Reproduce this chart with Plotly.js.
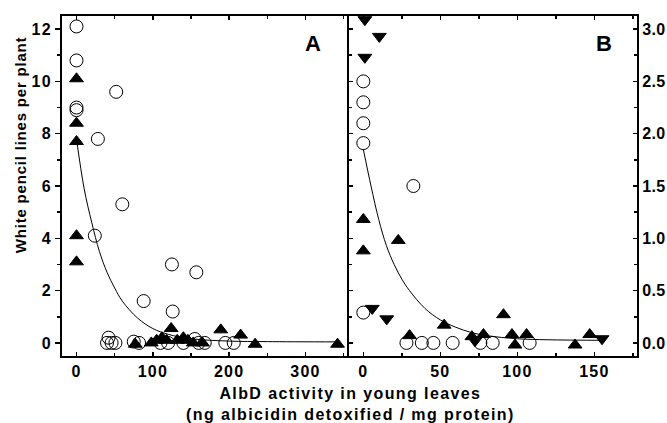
<!DOCTYPE html>
<html>
<head>
<meta charset="utf-8">
<script src="https://cdn.plot.ly/plotly-3.0.1.min.js"></script>
<style>
html,body{margin:0;padding:0;background:#fff;}
g.xtick text, g.x2tick text, g.ytick text { letter-spacing: 1.2px; }
g.y2tick text { letter-spacing: 0.3px; }
</style>
</head>
<body>
<div id="chart" style="width:667px;height:423px;"></div>
<script>
// Panel A: open circles
const aCircX = [0, 0, 0, 0, 52, 28, 60, 24, 125, 157, 88, 126, 42, 40, 46, 51, 75, 82, 110, 120, 140, 155, 160, 168, 195, 206];
const aCircY = [12.1, 10.8, 9.0, 8.9, 9.6, 7.8, 5.3, 4.1, 3.0, 2.7, 1.6, 1.2, 0.2, 0, 0, 0, 0.05, 0, 0, 0, 0, 0.15, 0, 0, 0, 0];
// Panel A: filled triangles
const aTriX = [0, 0, 0, 0, 0, 77, 98, 105, 112, 118, 124, 132, 140, 146, 153, 165, 189, 215, 234, 342];
const aTriY = [10.1, 8.4, 7.7, 4.1, 3.1, -0.05, 0, 0.1, 0.2, 0.1, 0.55, 0.1, 0.2, 0.1, 0, 0, 0.5, 0.3, -0.05, -0.05];
// Panel A: fitted curve
const aFitX = [0, 10, 20, 30, 40, 50, 60, 80, 100, 120, 150, 200, 250, 342];
const aFitY = [7.8, 5.9, 4.6, 3.5, 2.7, 2.1, 1.6, 0.95, 0.55, 0.33, 0.16, 0.07, 0.05, 0.04];

// Panel B: open circles
const bCircX = [0, 0, 0, 0, 32.5, 0, 28, 38, 45.5, 58, 76, 84, 108];
const bCircY = [2.5, 2.3, 2.1, 1.91, 1.5, 0.29, 0, 0, 0, 0, 0, 0, 0];
// Panel B: filled up triangles
const bUpX = [0, 0, 22.7, 30, 52.5, 70.5, 78, 91, 96.5, 98.5, 106, 137.5, 147];
const bUpY = [1.18, 0.88, 0.98, 0.07, 0.17, 0.06, 0.08, 0.27, 0.08, -0.02, 0.08, -0.02, 0.08];
// Panel B: filled down triangles
const bDnX = [1, 10.4, 1, 5.8, 15.2, 72.5, 155];
const bDnY = [3.09, 2.93, 2.73, 0.33, 0.23, 0.02, 0.04];
// Panel B: fitted curve
const bFitX = [0, 5, 10, 15, 20, 25, 30, 40, 50, 60, 70, 80, 100, 120, 157];
const bFitY = [1.85, 1.5, 1.18, 0.93, 0.75, 0.61, 0.5, 0.33, 0.22, 0.15, 0.1, 0.07, 0.04, 0.03, 0.025];

// Tick values/labels
const aXTicks = [0, 100, 200, 300];
const aYTicks = [0, 2, 4, 6, 8, 10, 12];
const bXTicks = [0, 50, 100, 150];
const bYTicks = [0, 0.5, 1.0, 1.5, 2.0, 2.5, 3.0];
const bYLabels = ['0.0', '0.5', '1.0', '1.5', '2.0', '2.5', '3.0'];

const FONT = 'Liberation Sans, Arial, sans-serif';
const circ = {symbol: 'circle-open', size: 13, color: 'black', line: {width: 1, color: 'black'}};
const triU = {symbol: 'triangle-up', size: 12, color: 'black', line: {width: 1, color: 'black'}};
const triD = {symbol: 'triangle-down', size: 12, color: 'black', line: {width: 1, color: 'black'}};
const fitLine = {color: 'black', width: 1, shape: 'spline'};

const data = [
  {x: aFitX, y: aFitY, xaxis: 'x', yaxis: 'y', mode: 'lines', line: fitLine, hoverinfo: 'skip'},
  {x: aCircX, y: aCircY, xaxis: 'x', yaxis: 'y', mode: 'markers', marker: circ},
  {x: aTriX, y: aTriY, xaxis: 'x', yaxis: 'y', mode: 'markers', marker: triU},
  {x: bFitX, y: bFitY, xaxis: 'x2', yaxis: 'y2', mode: 'lines', line: fitLine, hoverinfo: 'skip'},
  {x: bCircX, y: bCircY, xaxis: 'x2', yaxis: 'y2', mode: 'markers', marker: circ},
  {x: bUpX, y: bUpY, xaxis: 'x2', yaxis: 'y2', mode: 'markers', marker: triU},
  {x: bDnX, y: bDnY, xaxis: 'x2', yaxis: 'y2', mode: 'markers', marker: triD}
];

const tickFont = {family: FONT, size: 16, color: 'black', weight: 'bold'};
const split = 287 / 575;

const layout = {
  width: 667, height: 423,
  margin: {l: 62, r: 30, t: 16, b: 67},
  paper_bgcolor: 'white', plot_bgcolor: 'white',
  showlegend: false,
  font: {family: FONT, color: 'black'},
  xaxis: {
    domain: [0, split], range: [-19, 357], anchor: 'y',
    tickvals: aXTicks, ticks: 'inside', ticklen: 4, tickwidth: 1.5, tickcolor: 'black',
    minor: {dtick: 50, ticks: 'inside', ticklen: 3, tickcolor: 'black'},
    showline: true, linewidth: 2, linecolor: 'black', mirror: 'ticks',
    showgrid: false, zeroline: false, tickfont: tickFont
  },
  yaxis: {
    domain: [0, 1], range: [-0.5, 12.5], anchor: 'x',
    tickvals: aYTicks, ticks: 'outside', ticklen: 5, tickwidth: 1.5, tickcolor: 'black',
    minor: {dtick: 1, ticks: 'outside', ticklen: 3, tickcolor: 'black'},
    showline: true, linewidth: 2, linecolor: 'black', mirror: false,
    showgrid: false, zeroline: false, tickfont: tickFont
  },
  xaxis2: {
    domain: [split, 1], range: [-9.3, 177.7], anchor: 'y2',
    tickvals: bXTicks, ticks: 'inside', ticklen: 4, tickwidth: 1.5, tickcolor: 'black',
    minor: {dtick: 25, ticks: 'inside', ticklen: 3, tickcolor: 'black'},
    showline: true, linewidth: 2, linecolor: 'black', mirror: 'ticks',
    showgrid: false, zeroline: false, tickfont: tickFont
  },
  yaxis2: {
    domain: [0, 1], range: [-0.125, 3.125], anchor: 'x2', side: 'right',
    tickvals: bYTicks, ticktext: bYLabels, ticks: 'inside', ticklen: 4, tickwidth: 1.5, tickcolor: 'black',
    minor: {dtick: 0.25, ticks: 'inside', ticklen: 3, tickcolor: 'black'},
    showline: true, linewidth: 2, linecolor: 'black', mirror: 'ticks',
    showgrid: false, zeroline: false, tickfont: tickFont
  },
  annotations: [
    {text: 'A', xref: 'x domain', yref: 'y domain', x: 0.875, y: 0.918, showarrow: false,
     xanchor: 'center', yanchor: 'middle', font: {family: FONT, size: 22, color: 'black', weight: 'bold'}},
    {text: 'B', xref: 'x2 domain', yref: 'y2 domain', x: 0.885, y: 0.918, showarrow: false,
     xanchor: 'center', yanchor: 'middle', font: {family: FONT, size: 22, color: 'black', weight: 'bold'}},
    {text: '<span style="letter-spacing:0.8px">White pencil lines per plant</span>', xref: 'paper', yref: 'paper', x: -0.073, y: 0.62,
     textangle: -90, showarrow: false, xanchor: 'center', yanchor: 'middle',
     font: {family: FONT, size: 15, color: 'black', weight: 'bold'}},
    {text: '<span style="letter-spacing:1.4px">AlbD activity in young leaves</span><br><span style="letter-spacing:1.4px">(ng albicidin detoxified / mg protein)</span>', xref: 'paper', yref: 'paper',
     x: 0.501, y: -0.142, showarrow: false, xanchor: 'center', yanchor: 'middle', align: 'center',
     font: {family: FONT, size: 16, color: 'black', weight: 'bold'}}
  ]
};

Plotly.newPlot('chart', data, layout, {displayModeBar: false, staticPlot: true});
</script>
</body>
</html>
